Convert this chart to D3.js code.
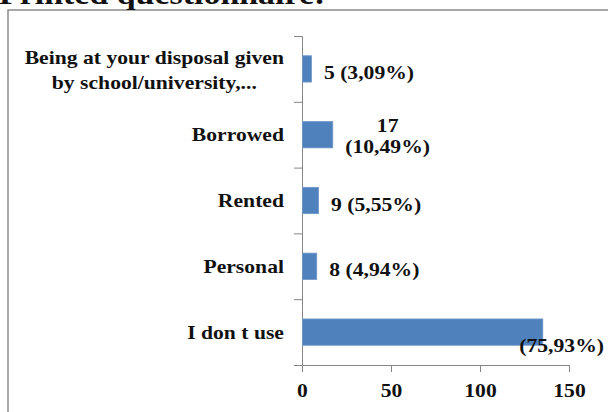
<!DOCTYPE html>
<html>
<head>
<meta charset="utf-8">
<script src="https://cdn.jsdelivr.net/npm/d3@7/dist/d3.min.js"></script>
<style>
  body { margin: 0; background: #fff; overflow: hidden; }
  svg { display: block; }
  text { font-family: "Liberation Serif", "Times New Roman", serif; font-weight: bold; fill: #111; }
</style>
</head>
<body>
<div id="chart"></div>
<script>
// values
var title = 'Printed questionnaire:';
var categories = ['Being at your disposal given\nby school/university,...', 'Borrowed', 'Rented', 'Personal', 'I don t use'];
var values = [5, 17, 9, 8, 135];
var valueLabels = ['5 (3,09%)', '17\n(10,49%)', '9 (5,55%)', '8 (4,94%)', '(75,93%)'];
var xTicks = [0, 50, 100, 150];

var W = 608, H = 412;
var sx = 1.17;      // text in the source is stretched sideways
var fs = 18.5;

var svg = d3.select('#chart').append('svg')
    .attr('width', W)
    .attr('height', H);

// frame around the chart (runs off right / bottom)
svg.append('rect')
    .attr('x', 8).attr('y', 10)
    .attr('width', 700).attr('height', 500)
    .attr('fill', 'none')
    .attr('stroke', '#8c8c8c')
    .attr('stroke-width', 1.5);

// title, mostly cut off at the top
svg.append('text')
    .attr('transform', 'translate(-1,4) scale(' + sx + ',1)')
    .style('font-size', '29px')
    .text(title);

var x = d3.scaleLinear().domain([0, 150]).range([302, 569]);
var y = d3.scaleBand().domain(categories).range([36, 365])
    .paddingInner(0.6).paddingOuter(0.3);
var yEdge = d3.scaleLinear().domain([0, categories.length]).range([36, 365]);

var axisColor = '#868686';

// y axis, ticks on category boundaries
var gy = svg.append('g')
    .attr('transform', 'translate(' + x(0) + ',0)')
    .call(d3.axisLeft(yEdge).ticks(categories.length).tickSize(8).tickFormat(''));
gy.select('.domain').attr('stroke', axisColor);
gy.selectAll('.tick line').attr('stroke', axisColor);

// x axis
var gx = svg.append('g')
    .attr('transform', 'translate(0,' + 365 + ')')
    .call(d3.axisBottom(x).tickValues(xTicks).tickSize(7).tickSizeOuter(0).tickPadding(25));
gx.select('.domain').attr('stroke', axisColor);
gx.selectAll('.tick line').attr('stroke', axisColor);
gx.selectAll('.tick text')
    .attr('dy', 0)
    .attr('transform', 'scale(' + sx + ',1)')
    .style('font-size', fs + 'px')
    .style('font-family', '"Liberation Serif", serif')
    .style('font-weight', 'bold')
    .attr('fill', '#111');

// bars
svg.selectAll('.bar')
    .data(values)
    .enter().append('rect')
    .attr('class', 'bar')
    .attr('x', x(0) + 0.5)
    .attr('y', (d, i) => y(categories[i]))
    .attr('width', d => x(d) - x(0))
    .attr('height', y.bandwidth())
    .attr('fill', '#4f81bd')
    .attr('stroke', '#6f97c9')
    .attr('stroke-width', 0.8);

// category labels
categories.forEach(function(c, i) {
    var lines = c.split('\n');
    var cy = y(c) + y.bandwidth() / 2;
    var g = svg.append('g');
    var texts = lines.map(function(l, j) {
        return g.append('text')
            .attr('text-anchor', 'middle')
            .style('font-size', fs + 'px')
            .text(l);
    });
    var widths = texts.map(t => t.node().getComputedTextLength() * sx);
    var bw = d3.max(widths);
    var right = 284;
    var first = cy + 6.5 - (lines.length - 1) * 11;
    texts.forEach(function(t, j) {
        t.attr('transform', 'translate(' + (right - bw / 2) + ',' + (first + j * 25) + ') scale(' + sx + ',1)');
    });
});

// value labels
valueLabels.forEach(function(lbl, i) {
    var lines = lbl.split('\n');
    var cy = y(categories[i]) + y.bandwidth() / 2;
    var g = svg.append('g');
    var texts = lines.map(function(l) {
        return g.append('text')
            .attr('text-anchor', 'middle')
            .style('font-size', fs + 'px')
            .text(l);
    });
    var bw = d3.max(texts.map(t => t.node().getComputedTextLength() * sx));
    var left = x(values[i]) + 13;
    var first = cy + 10 - (lines.length - 1) * 12.5;
    if (left + bw > W - 4) {
        // no room: tuck it under the bar end
        left = W - 4 - bw;
        first = cy + y.bandwidth() / 2 + 7;
    }
    texts.forEach(function(t, j) {
        t.attr('transform', 'translate(' + (left + bw / 2) + ',' + (first + j * 21) + ') scale(' + sx + ',1)');
    });
});
</script>
</body>
</html>
